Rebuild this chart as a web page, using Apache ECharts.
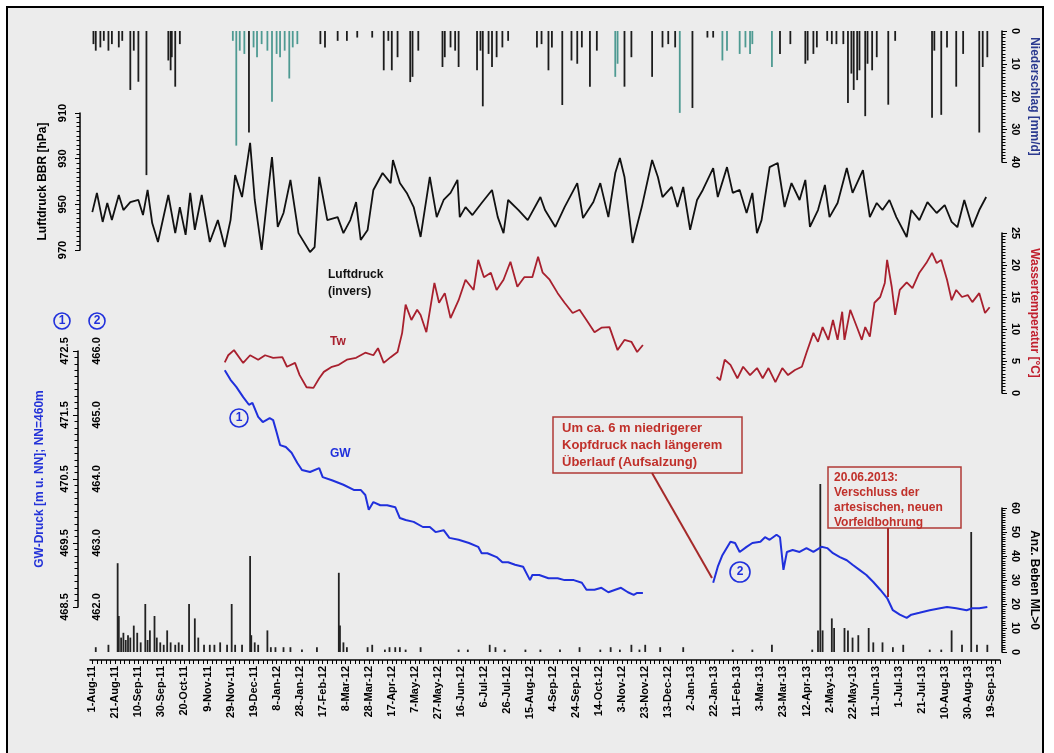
<!DOCTYPE html>
<html><head><meta charset="utf-8">
<script src="https://cdn.jsdelivr.net/npm/echarts@6/dist/echarts.min.js"></script>
<style>html,body{margin:0;padding:0;background:#fff}#c{width:1054px;height:753px}</style>
</head><body><div id="c"></div>
<script>
// day index counted from 1-Aug-2011
const dateLabels = ['1-Aug-11','21-Aug-11','10-Sep-11','30-Sep-11','20-Oct-11','9-Nov-11','29-Nov-11','19-Dec-11','8-Jan-12','28-Jan-12','17-Feb-12','8-Mar-12','28-Mar-12','17-Apr-12','7-May-12','27-May-12','16-Jun-12','6-Jul-12','26-Jul-12','15-Aug-12','4-Sep-12','24-Sep-12','14-Oct-12','3-Nov-12','23-Nov-12','13-Dec-12','2-Jan-13','22-Jan-13','11-Feb-13','3-Mar-13','23-Mar-13','12-Apr-13','2-May-13','22-May-13','11-Jun-13','1-Jul-13','21-Jul-13','10-Aug-13','30-Aug-13','19-Sep-13'];

const precipRain = [[1,4],[3,6],[7,5],[10,3],[14,6],[17,4],[23,5],[26,3],[33,18],[36,6],[40,15.5],[47,44],[66,9],[68,12],[69,8],[72,17],[76,4],[136,31],[198,4],[202,5],[213,3],[221,3],[230,2],[243,2],[253,12],[257,3],[260,12],[265,8],[276,15.6],[278,14],[283,6],[304,11],[306,8],[311,5],[315,6],[318,11],[334,12],[337,6],[339,23],[344,7],[347,11],[351,8],[356,5],[361,3],[386,5],[390,4],[396,12],[399,5],[408,22.6],[416,9],[421,10],[425,5],[432,17],[438,6],[462,17],[468,8],[486,14],[495,5],[500,4],[506,5],[521,23.5],[534,2],[539,2],[597,7],[606,4],[619,10],[621,9],[626,7],[629,5],[638,3],[642,4],[646,4],[652,4],[656,22],[659,13],[661,18],[664,15],[666,12],[671,26],[673,10],[677,12],[681,8],[691,22.5],[697,3],[729,26.5],[731,6],[737,25.6],[742,5],[750,17],[756,7],[770,31],[773,11],[777,8]];
const precipSnow = [[122,3],[125,35],[128,6],[132,7],[140,5],[143,8],[147,4],[152,6],[156,21.6],[160,7],[163,8],[167,6],[171,14.5],[174,5],[178,4],[454,14],[456,10],[510,25],[547,9],[551,6],[562,7],[567,5],[571,7],[573,4],[590,11]];

const pressure = [[0,953.4],[4,945.0],[9,957.7],[13,949.4],[17,956.9],[23,945.9],[27,952.5],[33,949.0],[40,948.1],[44,954.7],[48,943.7],[52,958.2],[57,966.5],[66,945.9],[72,962.6],[76,951.2],[81,963.4],[85,945.0],[89,961.2],[95,945.9],[102,966.5],[109,956.9],[115,968.7],[120,956.9],[124,937.2],[130,946.8],[137,923.1],[141,948.1],[147,970.0],[152,946.8],[156,929.3],[161,959.9],[166,953.8],[172,939.3],[179,962.6],[189,970.9],[193,968.7],[197,938.0],[204,956.9],[213,955.6],[218,962.6],[224,956.9],[229,949.0],[233,965.6],[239,961.2],[244,943.7],[252,936.3],[259,940.7],[261,930.6],[267,940.7],[273,945.0],[279,951.2],[285,964.3],[293,938.0],[299,955.6],[305,948.1],[311,945.0],[317,939.3],[319,955.6],[324,951.2],[330,954.7],[338,949.4],[347,943.7],[352,955.6],[357,962.6],[361,948.1],[370,952.5],[378,956.9],[389,946.8],[393,952.5],[402,959.9],[410,951.2],[421,940.7],[426,956.0],[435,949.0],[441,940.7],[448,955.6],[454,936.3],[458,929.7],[462,938.0],[469,966.9],[477,951.2],[486,930.6],[491,938.0],[495,946.8],[503,942.4],[508,951.2],[513,942.4],[519,961.2],[525,948.1],[530,943.7],[539,934.1],[543,946.8],[551,933.7],[556,945.0],[562,943.7],[568,953.8],[573,945.0],[577,962.6],[581,956.9],[588,933.7],[595,931.9],[601,951.2],[607,940.7],[614,948.1],[619,939.3],[623,959.9],[630,952.5],[636,941.5],[640,955.6],[647,949.4],[655,934.1],[660,945.0],[669,935.0],[675,955.6],[681,949.4],[686,952.5],[692,948.1],[698,955.6],[707,964.3],[711,952.5],[718,956.9],[725,949.0],[733,953.8],[740,950.3],[746,957.7],[751,960.0],[757,948.1],[764,960.0],[770,952.5],[776,946.8]];

const waterTemp = [[115,4.8],[118,5.9],[123,6.7],[131,4.7],[137,5.9],[144,5.2],[150,5.9],[157,5.5],[165,5.6],[169,4.1],[176,4.7],[180,2.8],[186,0.9],[192,0.8],[197,2.3],[201,3.3],[208,4.1],[214,4.4],[221,5.2],[229,5.5],[237,6.3],[244,5.9],[248,7.0],[253,4.7],[259,5.6],[265,6.4],[269,9.4],[272,13.8],[277,11.4],[282,13.0],[285,12.2],[290,9.5],[297,17.2],[301,14.1],[306,15.6],[311,11.7],[318,14.5],[324,17.7],[331,16.1],[335,20.8],[340,18.1],[346,18.8],[351,16.1],[357,17.7],[363,20.5],[369,16.6],[375,18.1],[382,18.1],[387,21.3],[391,18.8],[397,17.7],[404,15.6],[410,14.1],[417,12.5],[423,13.0],[429,11.4],[436,9.5],[442,10.2],[449,10.3],[456,6.7],[462,8.3],[468,8.0],[473,6.4],[478,7.5],[510,'-'],[542,2.5],[545,2.0],[549,5.2],[554,4.4],[560,2.3],[565,4.1],[571,2.8],[577,3.9],[582,2.3],[587,3.9],[593,1.7],[599,3.9],[604,2.8],[610,3.6],[616,4.1],[620,6.3],[626,9.4],[630,8.0],[634,10.3],[639,8.3],[643,11.4],[647,8.3],[651,12.7],[653,8.3],[658,13.0],[664,10.2],[668,8.3],[671,10.3],[675,8.8],[679,14.1],[684,15.0],[688,17.2],[690,20.8],[694,16.6],[697,12.2],[701,16.1],[707,17.3],[712,16.4],[718,18.8],[724,20.3],[729,21.9],[733,20.3],[737,20.8],[742,17.7],[746,14.5],[750,16.1],[755,15.0],[760,15.3],[764,14.2],[770,15.6],[775,12.5],[779,13.4]];

// GW well 1 (axis 1) and well 2 (axis 2)
const gw1 = [[115,472.20],[120,472.05],[125,471.94],[131,471.78],[136,471.66],[139,471.69],[144,471.47],[148,471.39],[154,471.45],[157,471.42],[160,471.23],[163,471.03],[168,471.00],[173,470.91],[178,470.75],[182,470.64],[189,470.61],[197,470.67],[200,470.53],[208,470.48],[218,470.41],[227,470.33],[233,470.33],[237,470.25],[240,470.02],[244,470.14],[250,470.09],[256,470.09],[263,470.06],[267,469.89],[272,469.86],[279,469.83],[287,469.75],[293,469.75],[298,469.67],[305,469.70],[310,469.58],[318,469.55],[327,469.50],[335,469.44],[338,469.34],[343,469.34],[351,469.28],[356,469.20],[361,469.20],[367,469.16],[374,469.13],[380,468.92],[382,469.00],[388,469.00],[396,468.95],[404,468.95],[410,468.92],[418,468.92],[425,468.88],[429,468.77],[436,468.77],[442,468.80],[448,468.73],[454,468.77],[459,468.80],[465,468.73],[470,468.69],[473,468.72],[478,468.72]];
const gw2 = [[539,462.38],[543,462.63],[547,462.81],[554,463.02],[558,463.00],[562,462.86],[568,462.94],[573,463.00],[580,463.02],[584,463.09],[588,463.05],[594,463.13],[597,463.09],[600,462.58],[603,462.86],[608,462.89],[614,462.86],[620,462.92],[626,462.86],[633,462.94],[638,462.92],[643,462.84],[649,462.78],[655,462.73],[660,462.66],[666,462.58],[672,462.50],[678,462.39],[684,462.27],[690,462.14],[695,461.95],[701,461.88],[707,461.83],[711,461.88],[718,461.91],[727,461.95],[736,461.98],[742,462.00],[750,461.98],[759,461.95],[764,461.98],[770,461.98],[777,462.00]];

const quakes = [[3,2],[14,3],[22,37],[23,15],[25,6],[27,8],[29,5],[31,7],[33,6],[36,11],[39,8],[42,4],[46,20],[48,5],[50,9],[54,15],[56,6],[59,4],[62,3],[65,9],[68,4],[72,3],[75,4],[78,3],[84,20],[89,14],[92,6],[97,3],[102,3],[106,3],[111,4],[117,3],[121,20],[124,3],[130,3],[137,40],[138,7],[141,4],[144,3],[152,9],[155,2],[159,2],[166,2],[172,2],[182,1],[195,2],[214,33],[215,11],[218,4],[221,2],[239,2],[243,3],[254,1],[258,2],[263,2],[267,2],[272,1],[285,2],[318,1],[326,1],[345,3],[350,2],[358,1],[376,1],[389,1],[406,1],[423,2],[441,1],[450,2],[458,1],[468,3],[475,1],[480,3],[493,2],[513,2],[556,1],[573,1],[590,3],[625,1],[630,9],[632,70],[634,9],[642,14],[644,10],[653,10],[656,9],[660,6],[665,7],[674,10],[678,4],[686,4],[695,2],[704,3],[727,1],[737,1],[746,9],[755,3],[763,50],[768,3],[777,3]];

const FONT = '"Liberation Sans", Arial, sans-serif';
const XMIN = -2, XMAX = 788;
const labelDays = dateLabels.map((_, i) => i * 20);
const tickDays = []; for (let d = 0; d <= XMAX; d += 4) tickDays.push(d);

const grids = [
  {left: 90, right: 54, top: 31, height: 131},   // precipitation
  {left: 90, right: 54, top: 113, height: 137},  // air pressure
  {left: 90, right: 54, top: 233, height: 160},  // water temperature
  {left: 90, right: 54, top: 351, height: 256},  // GW pressure
  {left: 90, right: 54, top: 508, height: 144}   // earthquakes
];

const xAxes = grids.map((g, i) => ({
  type: 'value', gridIndex: i, min: XMIN, max: XMAX, show: i === 4,
  position: 'bottom', offset: 8,
  axisLine: {show: true, onZero: false, lineStyle: {color: '#000', width: 1.5}},
  axisTick: {show: true, customValues: tickDays, length: 4, lineStyle: {color: '#000', width: 1}},
  axisLabel: {customValues: labelDays, rotate: 90, margin: 6,
    formatter: v => dateLabels[Math.round(v / 20)] || '',
    fontSize: 11, fontWeight: 'bold', color: '#000', fontFamily: FONT},
  splitLine: {show: false}
}));

function yAx(o) {
  const right = o.position === 'right';
  return Object.assign({
    type: 'value', splitLine: {show: false},
    axisLine: {show: true, onZero: false, lineStyle: {color: '#000', width: 1.5}},
    axisTick: {show: true, length: 5, lineStyle: {color: '#000', width: 1}},
    minorTick: {show: true, splitNumber: 10, length: 3.5, lineStyle: {color: '#000', width: 1}},
    minorSplitLine: {show: false},
    axisLabel: {rotate: right ? -90 : 90, align: 'center', verticalAlign: 'middle',
      margin: right ? 13 : 17, fontSize: 11, fontWeight: 'bold', color: '#000', fontFamily: FONT},
    nameLocation: 'middle', nameRotate: right ? -90 : 90,
  }, o);
}

const yAxes = [
  yAx({gridIndex: 0, position: 'right', offset: 2, min: 0, max: 40, interval: 10, inverse: true,
    name: 'Niederschlag [mm/d]', nameGap: 24,
    nameTextStyle: {color: '#2b3a8f', fontWeight: 'bold', fontSize: 12, fontFamily: FONT}}),
  yAx({gridIndex: 1, position: 'left', offset: 10, min: 910, max: 970, interval: 20, inverse: true,
    name: 'Luftdruck BBR [hPa]', nameGap: 31,
    nameTextStyle: {color: '#000', fontWeight: 'bold', fontSize: 12, fontFamily: FONT}}),
  yAx({gridIndex: 2, position: 'right', offset: 2, min: 0, max: 25, interval: 5,
    name: 'Wassertemperatur [°C]', nameGap: 24,
    nameTextStyle: {color: '#c0202e', fontWeight: 'bold', fontSize: 12, fontFamily: FONT}}),
  yAx({gridIndex: 3, position: 'left', offset: 12, min: 468.5, max: 472.5, interval: 1,
    axisLabel: {rotate: 90, align: 'center', verticalAlign: 'middle', margin: 13, fontSize: 11,
      fontWeight: 'bold', color: '#000', fontFamily: FONT, formatter: v => v.toFixed(1)},
    name: 'GW-Druck [m u. NN]; NN=460m', nameGap: 32,
    nameTextStyle: {color: '#2433d8', fontWeight: 'bold', fontSize: 12, fontFamily: FONT}}),
  yAx({gridIndex: 3, position: 'left', offset: 12, min: 462, max: 466, interval: 1,
    axisLine: {show: false}, axisTick: {show: false}, minorTick: {show: false},
    axisLabel: {inside: true, rotate: 90, align: 'center', verticalAlign: 'middle', margin: 19, fontSize: 11,
      fontWeight: 'bold', color: '#000', fontFamily: FONT, formatter: v => v.toFixed(1)}}),
  yAx({gridIndex: 4, position: 'right', offset: 2, min: 0, max: 60, interval: 10,
    name: 'Anz. Beben ML>0', nameGap: 24,
    nameTextStyle: {color: '#000', fontWeight: 'bold', fontSize: 12, fontFamily: FONT}})
];

const BLUE = '#2030dc', RED = '#a8202e', ANN = '#c0302a';

const series = [
  {type: 'bar', name: 'Regen', xAxisIndex: 0, yAxisIndex: 0, data: precipRain, barWidth: 1.8, barGap: '-100%',
    itemStyle: {color: '#1c1c1c'}, clip: false, silent: true},
  {type: 'bar', name: 'Schnee', xAxisIndex: 0, yAxisIndex: 0, data: precipSnow, barWidth: 1.8, barGap: '-100%',
    itemStyle: {color: '#4e9a92'}, clip: false, silent: true},
  {type: 'line', name: 'Luftdruck', xAxisIndex: 1, yAxisIndex: 1, data: pressure, showSymbol: false,
    lineStyle: {color: '#111', width: 1.8}, clip: false, silent: true},
  {type: 'line', name: 'Tw', xAxisIndex: 2, yAxisIndex: 2, data: waterTemp, showSymbol: false, connectNulls: false,
    lineStyle: {color: RED, width: 1.8}, clip: false, silent: true},
  {type: 'line', name: 'GW1', xAxisIndex: 3, yAxisIndex: 3, data: gw1, showSymbol: false,
    lineStyle: {color: BLUE, width: 2}, clip: false, silent: true},
  {type: 'line', name: 'GW2', xAxisIndex: 3, yAxisIndex: 4, data: gw2, showSymbol: false,
    lineStyle: {color: BLUE, width: 2}, clip: false, silent: true},
  {type: 'bar', name: 'Beben', xAxisIndex: 4, yAxisIndex: 5, data: quakes, barWidth: 1.8,
    itemStyle: {color: '#222'}, clip: false, silent: true}
];

function circ(cx, cy, r, num) {
  return {type: 'group', children: [
    {type: 'circle', shape: {cx, cy, r}, style: {fill: 'none', stroke: BLUE, lineWidth: 1.6}},
    {type: 'text', x: cx, y: cy, style: {text: num, fill: BLUE, font: 'bold 12px ' + FONT, align: 'center', verticalAlign: 'middle'}}
  ]};
}

const graphic = [
  {type: 'rect', z: -10, shape: {x: 7, y: 7, width: 1036, height: 760}, style: {fill: '#ececec', stroke: '#000', lineWidth: 2}},
  {type: 'text', x: 328, y: 266, style: {text: 'Luftdruck\n(invers)', fill: '#111', font: 'bold 12px ' + FONT, lineHeight: 17}},
  {type: 'text', x: 330, y: 336, style: {text: 'Tw', fill: RED, font: 'bold 12px ' + FONT}},
  {type: 'text', x: 330, y: 448, style: {text: 'GW', fill: BLUE, font: 'bold 12px ' + FONT}},
  circ(62, 321, 8, '1'), circ(97, 321, 8, '2'),
  circ(239, 418, 9, '1'), circ(740, 572, 10, '2'),
  {type: 'rect', shape: {x: 553, y: 417, width: 189, height: 56}, style: {fill: 'none', stroke: '#b03a36', lineWidth: 1.5}},
  {type: 'text', x: 562, y: 420, style: {text: 'Um ca. 6 m niedrigerer\nKopfdruck nach längerem\nÜberlauf (Aufsalzung)', fill: ANN, font: 'bold 13px ' + FONT, lineHeight: 17}},
  {type: 'line', shape: {x1: 652, y1: 473, x2: 712, y2: 578}, style: {stroke: '#a52a2a', lineWidth: 2}},
  {type: 'rect', shape: {x: 828, y: 467, width: 133, height: 61}, style: {fill: 'none', stroke: '#b03a36', lineWidth: 1.5}},
  {type: 'text', x: 834, y: 470, style: {text: '20.06.2013:\nVerschluss der\nartesischen, neuen\nVorfeldbohrung', fill: ANN, font: 'bold 12px ' + FONT, lineHeight: 15}},
  {type: 'line', shape: {x1: 888, y1: 528, x2: 888, y2: 597}, style: {stroke: '#a52a2a', lineWidth: 2}}
];

const chart = echarts.init(document.getElementById('c'), null, {renderer: 'canvas'});
chart.setOption({
  backgroundColor: '#ffffff',
  animation: false,
  grid: grids,
  xAxis: xAxes,
  yAxis: yAxes,
  series: series,
  graphic: graphic
});
</script></body></html>
